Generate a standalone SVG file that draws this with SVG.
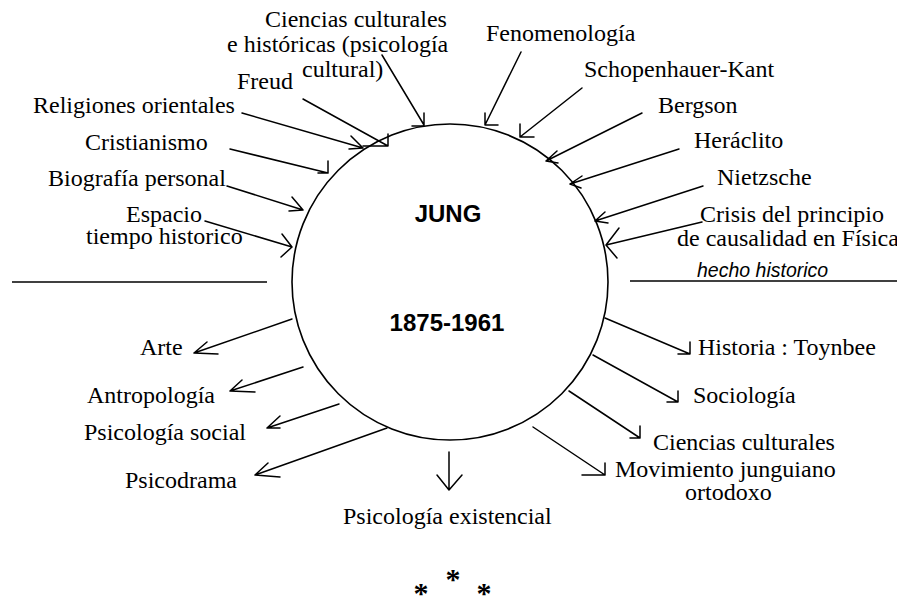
<svg xmlns="http://www.w3.org/2000/svg" width="897" height="601" viewBox="0 0 897 601">
<style>
.t{font-family:"Liberation Serif","Times New Roman",serif;font-size:24px;fill:#000}
.b{font-family:"Liberation Sans",Arial,sans-serif;font-size:24px;font-weight:bold;fill:#000;text-anchor:middle}
.i{font-family:"Liberation Sans",Arial,sans-serif;font-size:19.5px;font-style:italic;fill:#000}
.s{font-family:"Liberation Serif","Times New Roman",serif;font-size:30px;font-weight:bold;fill:#000;text-anchor:middle}
.c{fill:none;stroke:#000;stroke-width:1.5;stroke-linecap:round;stroke-linejoin:round}
</style>
<rect width="897" height="601" fill="#fff"/>
<g id="jung">
<circle cx="450" cy="282" r="158" fill="none" stroke="#000" stroke-width="1.6"/>
<text class="b" x="448" y="222">JUNG</text>
<text class="b" x="447" y="331">1875-1961</text>
</g>
<g id="divider">
<line x1="12" y1="282" x2="267" y2="282" stroke="#000" stroke-width="1.5"/>
<line x1="630" y1="281" x2="897" y2="281" stroke="#000" stroke-width="1.5"/>
<text class="i" x="697" y="277">hecho historico</text>
</g>
<g id="connectors">
<path class="c" d="M382,55 L424,125 M412,126 L424,126 L424,113"/>
<path class="c" d="M303,99 L388,146 M363,146 L388,146 L388,134"/>
<path class="c" d="M242,113 L363,148 M351,136 L363,148 L349,149"/>
<path class="c" d="M230,149 L328,173 M318,173 L328,173 L328,161"/>
<path class="c" d="M227,186 L303,210 M292,197 L303,210 L289,211"/>
<path class="c" d="M205,221 L292,247 M282,234 L292,247 L281,257"/>
<path class="c" d="M521,52 L485,125 M485,113 L485,125 L498,125"/>
<path class="c" d="M582,88 L520,137 M520,124 L520,137 L534,137"/>
<path class="c" d="M642,113 L546,161 M557,151 L546,161 L558,163"/>
<path class="c" d="M679,149 L570,184 M582,176 L570,184 L581,188"/>
<path class="c" d="M703,186 L595,221 M605,212 L595,221 L608,223"/>
<path class="c" d="M702,222 L606,245 M619,228 L606,245 L617,258"/>
<path class="c" d="M605,318 L690,354 M678,354 L690,354 L690,342"/>
<path class="c" d="M593,355 L678,402 M667,402 L678,402 L678,391"/>
<path class="c" d="M569,391 L640,438 M630,438 L640,438 L640,426"/>
<path class="c" d="M533,427 L605,475 M582,475 L605,475 L605,463"/>
<path class="c" d="M449,452 L449,490 M437,475 L449,490 L462,475"/>
<path class="c" d="M387,428 L255,475 M268,463 L255,475 L280,477"/>
<path class="c" d="M339,404 L267,428 M280,416 L267,428 L280,428"/>
<path class="c" d="M303,367 L230,391 M242,380 L230,391 L255,392"/>
<path class="c" d="M292,319 L194,353 M207,342 L194,353 L218,354"/>
</g>
<g id="ciencias-historicas"><text class="t" x="265" y="27">Ciencias culturales</text><text class="t" x="227" y="52">e históricas (psicología</text><text class="t" x="302" y="77">cultural)</text></g>
<g id="freud"><text class="t" x="237" y="89">Freud</text></g>
<g id="religiones"><text class="t" x="33" y="113">Religiones orientales</text></g>
<g id="cristianismo"><text class="t" x="85" y="150">Cristianismo</text></g>
<g id="biografia"><text class="t" x="48" y="186">Biografía personal</text></g>
<g id="espacio"><text class="t" x="126" y="222">Espacio</text><text class="t" x="86" y="244">tiempo historico</text></g>
<g id="fenomenologia"><text class="t" x="486" y="41">Fenomenología</text></g>
<g id="schopenhauer"><text class="t" x="584" y="77">Schopenhauer-Kant</text></g>
<g id="bergson"><text class="t" x="658" y="113">Bergson</text></g>
<g id="heraclito"><text class="t" x="694" y="148">Heráclito</text></g>
<g id="nietzsche"><text class="t" x="717" y="185">Nietzsche</text></g>
<g id="crisis"><text class="t" x="700" y="222">Crisis del principio</text><text class="t" x="677" y="246">de causalidad en Física</text></g>
<g id="arte"><text class="t" x="140" y="355">Arte</text></g>
<g id="antropologia"><text class="t" x="87" y="403">Antropología</text></g>
<g id="psicologia-social"><text class="t" x="84" y="440">Psicología social</text></g>
<g id="psicodrama"><text class="t" x="125" y="488">Psicodrama</text></g>
<g id="historia"><text class="t" x="698" y="355">Historia : Toynbee</text></g>
<g id="sociologia"><text class="t" x="693" y="403">Sociología</text></g>
<g id="ciencias-culturales"><text class="t" x="653" y="450">Ciencias culturales</text></g>
<g id="movimiento"><text class="t" x="615" y="477">Movimiento junguiano</text><text class="t" x="685" y="500">ortodoxo</text></g>
<g id="existencial"><text class="t" x="343" y="524">Psicología existencial</text></g>
<g id="stars">
<text class="s" x="453" y="589">*</text>
<text class="s" x="421" y="603">*</text>
<text class="s" x="484" y="603">*</text>
</g>
</svg>
